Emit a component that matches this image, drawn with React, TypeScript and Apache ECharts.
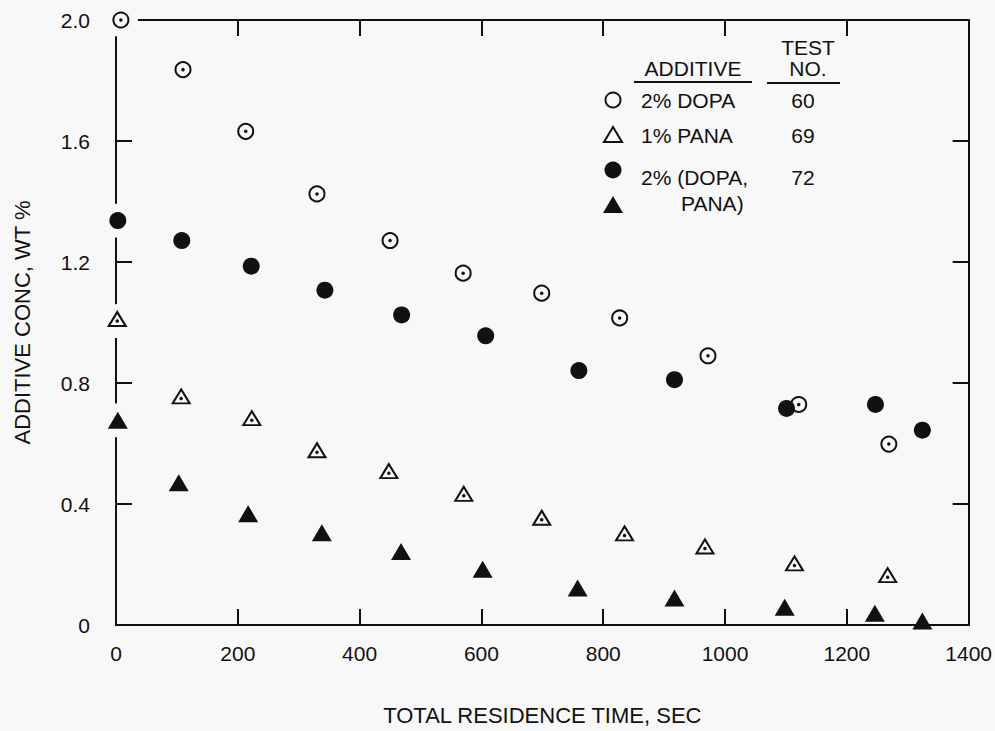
import React, { useEffect, useRef } from "react";
import * as echarts from "echarts";

// Axis ticks
const xTicks = [0, 200, 400, 600, 800, 1000, 1200, 1400];
const yTicks = [0, 0.4, 0.8, 1.2, 1.6, 2.0];

// Test 60: 2% DOPA (open circle with centre dot)
const dopaTime = [8, 110, 213, 330, 450, 570, 699, 827, 972, 1121, 1269];
const dopaConc = [2.0, 1.836, 1.632, 1.425, 1.271, 1.163, 1.097, 1.015, 0.89, 0.729, 0.598];

// Test 69: 1% PANA (open triangle with centre dot)
const panaTime = [2, 107, 223, 330, 448, 571, 699, 835, 967, 1114, 1267];
const panaConc = [1.005, 0.749, 0.677, 0.571, 0.502, 0.427, 0.348, 0.296, 0.253, 0.197, 0.158];

// Test 72: 2% (DOPA, PANA) — DOPA part (filled circle)
const mixDopaTime = [3, 108, 222, 343, 469, 607, 760, 917, 1101, 1247, 1324];
const mixDopaConc = [1.337, 1.271, 1.186, 1.107, 1.025, 0.956, 0.841, 0.811, 0.716, 0.729, 0.644];

// Test 72: 2% (DOPA, PANA) — PANA part (filled triangle)
const mixPanaTime = [3, 103, 217, 338, 468, 602, 758, 917, 1098, 1246, 1324];
const mixPanaConc = [0.677, 0.47, 0.368, 0.305, 0.243, 0.184, 0.122, 0.089, 0.059, 0.039, 0.013];

// Legend table
const legendAdditive = ["2% DOPA", "1% PANA", "2% (DOPA,", "PANA)"];
const legendTestNo = ["60", "69", "72"];

const xAxisName = "TOTAL RESIDENCE TIME, SEC";
const yAxisName = "ADDITIVE CONC, WT %";

const BG = "#f8f8f8";
const INK = "#111111";
const FONT = '"Liberation Sans", Arial, Helvetica, sans-serif';
const FS = 21;

const zip = (xs: number[], ys: number[]) => xs.map((x, i) => [x, ys[i]]);

export default function App() {
  const ref = useRef<HTMLDivElement>(null);

  useEffect(() => {
    if (!ref.current) return;
    const chart = echarts.init(ref.current, undefined, { renderer: "svg" });

    const dopa = zip(dopaTime, dopaConc);
    const pana = zip(panaTime, panaConc);
    const mixD = zip(mixDopaTime, mixDopaConc);
    const mixP = zip(mixPanaTime, mixPanaConc);
    // points sitting on the y axis break the axis line
    const onAxis = [...dopa, ...pana, ...mixD, ...mixP].filter((p) => p[0] < 20);

    const axisCommon = {
      axisLine: { show: true, onZero: false, lineStyle: { color: INK, width: 2 } },
      axisTick: { show: true, inside: true, length: 16, lineStyle: { color: INK, width: 2 } },
      splitLine: { show: false },
    };

    const textStyle = (t: string, x: number, y: number, align = "left") => ({
      type: "text",
      x,
      y,
      style: {
        text: t,
        fill: INK,
        fontSize: FS,
        fontFamily: FONT,
        align,
        textAlign: align,
        verticalAlign: "middle",
        textVerticalAlign: "middle",
      },
    });

    const graphic: any[] = [
      textStyle("TEST", 808, 47, "center"),
      textStyle("NO.", 808, 68, "center"),
      textStyle("ADDITIVE", 693, 68, "center"),
      { type: "line", shape: { x1: 634, y1: 82, x2: 752, y2: 82 }, style: { stroke: INK, lineWidth: 2 } },
      { type: "line", shape: { x1: 767, y1: 83, x2: 840, y2: 83 }, style: { stroke: INK, lineWidth: 2 } },
      { type: "circle", shape: { cx: 613, cy: 100, r: 7.5 }, style: { fill: BG, stroke: INK, lineWidth: 2 } },
      {
        type: "polygon",
        shape: { points: [[613, 127], [604, 142], [622, 142]] },
        style: { fill: BG, stroke: INK, lineWidth: 2 },
      },
      { type: "circle", shape: { cx: 613, cy: 170, r: 8.5 }, style: { fill: INK } },
      {
        type: "polygon",
        shape: { points: [[613, 196], [603, 213], [623, 213]] },
        style: { fill: INK },
      },
      textStyle(legendAdditive[0], 641, 100),
      textStyle(legendAdditive[1], 641, 135),
      textStyle(legendAdditive[2], 641, 177),
      textStyle(legendAdditive[3], 681, 203),
      textStyle(legendTestNo[0], 803, 100, "center"),
      textStyle(legendTestNo[1], 803, 135, "center"),
      textStyle(legendTestNo[2], 803, 177, "center"),
    ];

    chart.setOption({
      animation: false,
      backgroundColor: BG,
      grid: { left: 116, right: 26, top: 20, bottom: 102, containLabel: false },
      textStyle: { fontFamily: FONT },
      xAxis: [
        {
          type: "value",
          position: "bottom",
          min: xTicks[0],
          max: xTicks[xTicks.length - 1],
          interval: xTicks[1] - xTicks[0],
          ...axisCommon,
          axisLabel: {
            fontSize: FS,
            color: INK,
            fontFamily: FONT,
            margin: 18,
            formatter: (v: number) => String(v),
          },
          name: xAxisName,
          nameLocation: "middle",
          nameGap: 79,
          nameTextStyle: { fontSize: 22, color: INK, fontFamily: FONT },
        },
        {
          type: "value",
          position: "top",
          min: xTicks[0],
          max: xTicks[xTicks.length - 1],
          interval: xTicks[1] - xTicks[0],
          ...axisCommon,
          axisLabel: { show: false },
        },
      ],
      yAxis: [
        {
          type: "value",
          position: "left",
          min: yTicks[0],
          max: yTicks[yTicks.length - 1],
          interval: yTicks[1] - yTicks[0],
          ...axisCommon,
          axisLabel: {
            fontSize: FS,
            color: INK,
            fontFamily: FONT,
            margin: 26,
            formatter: (v: number) => (v === 0 ? "0" : v.toFixed(1)),
          },
          name: yAxisName,
          nameLocation: "middle",
          nameGap: 83,
          nameRotate: 90,
          nameTextStyle: { fontSize: 22, color: INK, fontFamily: FONT },
        },
        {
          type: "value",
          position: "right",
          min: yTicks[0],
          max: yTicks[yTicks.length - 1],
          interval: yTicks[1] - yTicks[0],
          ...axisCommon,
          axisLabel: { show: false },
        },
      ],
      series: [
        {
          type: "scatter",
          name: "halo",
          data: onAxis,
          symbol: "circle",
          symbolSize: 34,
          itemStyle: { color: BG, opacity: 1 },
          clip: false,
          silent: true,
        },
        {
          type: "scatter",
          name: "2% DOPA (60)",
          data: dopa,
          symbol: "circle",
          symbolSize: 15,
          itemStyle: { color: BG, borderColor: INK, borderWidth: 2, opacity: 1 },
          clip: false,
        },
        {
          type: "scatter",
          name: "dopa dot",
          data: dopa,
          symbol: "circle",
          symbolSize: 3.5,
          itemStyle: { color: INK, opacity: 1 },
          clip: false,
        },
        {
          type: "scatter",
          name: "1% PANA (69)",
          data: pana,
          symbol: "triangle",
          symbolSize: [17, 14],
          symbolOffset: [0, -2],
          itemStyle: { color: BG, borderColor: INK, borderWidth: 2, opacity: 1 },
          clip: false,
        },
        {
          type: "scatter",
          name: "pana dot",
          data: pana,
          symbol: "circle",
          symbolSize: 3.5,
          itemStyle: { color: INK, opacity: 1 },
          clip: false,
        },
        {
          type: "scatter",
          name: "2% (DOPA, PANA) DOPA (72)",
          data: mixD,
          symbol: "circle",
          symbolSize: 17,
          itemStyle: { color: INK, opacity: 1 },
          clip: false,
        },
        {
          type: "scatter",
          name: "2% (DOPA, PANA) PANA (72)",
          data: mixP,
          symbol: "triangle",
          symbolSize: [20, 17],
          itemStyle: { color: INK, opacity: 1 },
          clip: false,
        },
      ],
      graphic,
    });

    return () => chart.dispose();
  }, []);

  return (
    <div
      ref={ref}
      style={{ position: "fixed", left: 0, top: 0, width: 995, height: 731 }}
    />
  );
}
